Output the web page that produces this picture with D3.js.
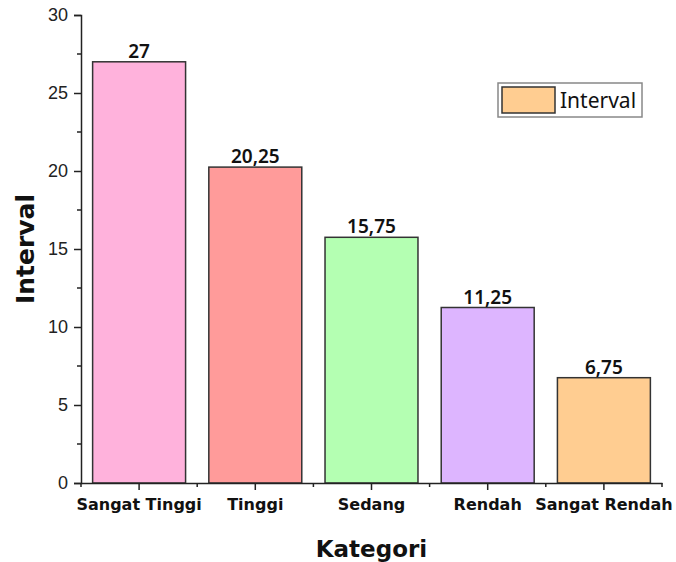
<!DOCTYPE html>
<meta charset="utf-8">
<style>
    body { margin: 0; background: #fff; }
    .tickLabel { font-family: "Liberation Sans", Arial, sans-serif; font-size: 18px; fill: #222; }
    .catLabel { font-family: "DejaVu Sans", sans-serif; font-weight: bold; font-size: 16px; fill: #111; }
    .valueLabel { font-family: "Noto Sans", "DejaVu Sans", sans-serif; font-weight: 600; font-size: 19px; fill: #111; text-anchor: middle; }
    .axisTitle { font-family: "DejaVu Sans", sans-serif; font-weight: bold; font-size: 23px; fill: #111; text-anchor: middle; }
</style>
<body>
<script src="https://d3js.org/d3.v7.min.js"></script>
<script>
    // data
    var categories = ["Sangat Tinggi", "Tinggi", "Sedang", "Rendah", "Sangat Rendah"];
    var values = [27, 20.25, 15.75, 11.25, 6.75];
    var colors = ["#ffb2dc", "#ff9b9a", "#b4ffb2", "#ddb5ff", "#ffcd91"];
    var yTicks = [0, 5, 10, 15, 20, 25, 30];

    var width = 676, height = 562;
    var x0 = 81, x1 = 662, yTop = 15, yBottom = 483;

    var svg = d3.select("body").append("svg").attr("width", width).attr("height", height);

    var x = d3.scaleBand().domain(categories).range([x0, x1]).padding(0);
    var y = d3.scaleLinear().domain([0, 30]).range([yBottom, yTop]);
    var barW = x.bandwidth() * 0.8;

    // bars
    svg.selectAll("rect.bar").data(values).enter().append("rect")
        .attr("class", "bar")
        .attr("x", function(d, i) { return x(categories[i]) + (x.bandwidth() - barW) / 2; })
        .attr("y", function(d) { return y(d); })
        .attr("width", barW)
        .attr("height", function(d) { return y(0) - y(d); })
        .attr("fill", function(d, i) { return colors[i]; })
        .attr("stroke", "#333")
        .attr("stroke-width", 1.5);

    // value labels
    svg.selectAll("text.valueLabel").data(values).enter().append("text")
        .attr("class", "valueLabel")
        .attr("x", function(d, i) { return x(categories[i]) + x.bandwidth() / 2; })
        .attr("y", function(d) { return y(d) - 4; })
        .text(function(d) { return String(d).replace(".", ","); });

    // Y axis
    var yAxis = svg.append("g").attr("transform", "translate(" + x0 + ",0)")
        .call(d3.axisLeft(y).tickValues(yTicks).tickSize(7).tickPadding(6));
    yAxis.selectAll("text").attr("class", "tickLabel");
    yAxis.selectAll("path, line").attr("stroke", "#222").attr("stroke-width", 1.5);
    // minor y ticks
    yAxis.selectAll("line.minor").data(d3.range(2.5, 30, 5)).enter().append("line")
        .attr("class", "minor")
        .attr("x1", -4).attr("x2", 0)
        .attr("y1", function(d) { return y(d); }).attr("y2", function(d) { return y(d); })
        .attr("stroke", "#222").attr("stroke-width", 1.5);
    yAxis.attr("font-size", null).attr("font-family", null);

    // X axis
    var xAxis = svg.append("g").attr("transform", "translate(0," + yBottom + ")")
        .call(d3.axisBottom(x).tickSize(7).tickPadding(9).tickSizeOuter(0));
    xAxis.selectAll("text").attr("class", "catLabel");
    xAxis.selectAll("path, line").attr("stroke", "#222").attr("stroke-width", 1.5);
    xAxis.attr("font-size", null).attr("font-family", null);
    // minor x ticks on band edges
    var edges = categories.map(function(c) { return x(c); }).concat([x1]);
    xAxis.selectAll("line.minor").data(edges).enter().append("line")
        .attr("class", "minor")
        .attr("x1", function(d) { return d; }).attr("x2", function(d) { return d; })
        .attr("y1", 0).attr("y2", 4)
        .attr("stroke", "#222").attr("stroke-width", 1.5);

    // axis titles
    svg.append("text").attr("class", "axisTitle")
        .attr("x", (x0 + x1) / 2).attr("y", 557).text("Kategori");
    svg.append("text").attr("class", "axisTitle")
        .attr("transform", "translate(34," + ((yTop + yBottom) / 2) + ") rotate(-90)")
        .style("font-size", "25px")
        .text("Interval");

    // legend
    var legend = svg.append("g").attr("transform", "translate(498,83)");
    legend.append("rect").attr("width", 144).attr("height", 34)
        .attr("fill", "#fff").attr("stroke", "#888").attr("stroke-width", 1.5);
    legend.append("rect").attr("x", 4).attr("y", 4).attr("width", 53).attr("height", 26)
        .attr("fill", colors[4]).attr("stroke", "#333").attr("stroke-width", 1.5);
    legend.append("text").attr("x", 62).attr("y", 25)
        .style("font-family", "'Noto Sans', sans-serif").style("font-size", "21px").style("fill", "#111")
        .text("Interval");
</script>
</body>
